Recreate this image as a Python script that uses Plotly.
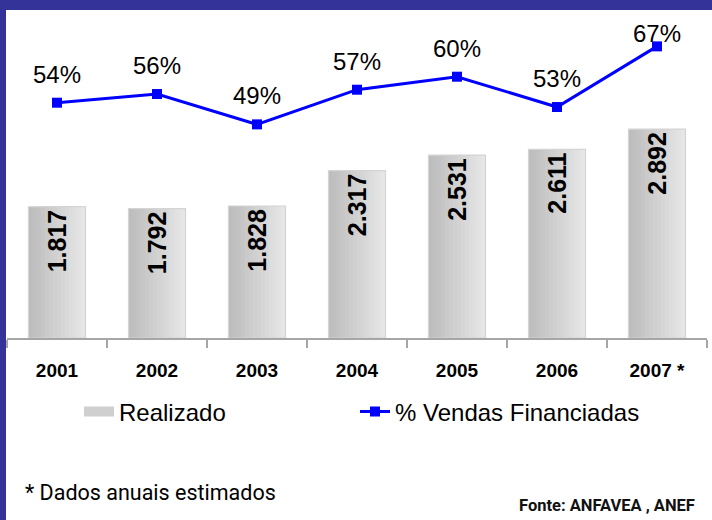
import plotly.graph_objects as go

# ---- data ----
years = ["2001", "2002", "2003", "2004", "2005", "2006", "2007 *"]
realizado = [1.817, 1.792, 1.828, 2.317, 2.531, 2.611, 2.892]
pct_financiadas = [54, 56, 49, 57, 60, 53, 67]
bar_labels = ["1.817", "1.792", "1.828", "2.317", "2.531", "2.611", "2.892"]
pct_labels = ["54%", "56%", "49%", "57%", "60%", "53%", "67%"]

FONT = "Liberation Sans, Arial, sans-serif"
NARROW = "Roboto, Liberation Sans, sans-serif"

W, H = 712, 520
ML, MR, MT, MB = 7, 5, 13, 182
PW, PH = W - ML - MR, H - MT - MB


def px_x(p):
    return (p - ML) / PW


def px_y(p):
    return (H - MB - p) / PH


fig = go.Figure()

# gradient bars: stacked overlay slices, dark on the left to light on the right
bw = 0.57
N = 14
c0 = (189, 189, 189)
c1 = (230, 230, 230)
for i in range(N):
    t = i / (N - 1)
    col = "rgb(%d,%d,%d)" % tuple(round(a + (b - a) * t) for a, b in zip(c0, c1))
    fig.add_trace(go.Bar(
        x=years, y=realizado, width=bw - i * bw / N, offset=-bw / 2 + i * bw / N,
        marker=dict(color=col, line=dict(width=0)),
        showlegend=False, hoverinfo="skip",
    ))

# outline + labels
fig.add_trace(go.Bar(
    x=years, y=realizado, width=bw, offset=-bw / 2, name="Realizado",
    marker=dict(color="rgba(0,0,0,0)", line=dict(color="#d4d4d4", width=1.2)),
    text=bar_labels, textposition="inside", insidetextanchor="end", textangle=-90,
    textfont=dict(family=FONT, size=25, color="black", weight="bold"),
    constraintext="none", showlegend=False,
))
# legend entry for the bars (wide grey swatch)
fig.add_trace(go.Scatter(
    x=[None], y=[None], name="Realizado", mode="lines",
    line=dict(color="#cfcfcf", width=13), legend="legend",
))

fig.add_trace(go.Scatter(
    x=years, y=pct_financiadas, yaxis="y2", name="% Vendas Financiadas",
    mode="lines+markers",
    line=dict(color="#0000FF", width=3),
    marker=dict(symbol="square", size=10, color="#0000FF"),
    legend="legend2",
))

label_yshift = {"2007 *": -3}
for i, (yr, v, lab) in enumerate(zip(years, pct_financiadas, pct_labels)):
    fig.add_annotation(
        x=i, y=v, xref="x", yref="y2", text=lab, showarrow=False,
        yanchor="bottom", yshift=label_yshift.get(yr, 13),
        font=dict(family=FONT, size=24, color="black"),
    )

fig.add_annotation(
    x=px_x(23), y=px_y(492), xref="paper", yref="paper", xanchor="left", yanchor="middle",
    text="* Dados anuais estimados", showarrow=False,
    font=dict(family=NARROW, size=21.5, color="black"),
)
fig.add_annotation(
    x=px_x(697), y=px_y(505), xref="paper", yref="paper", xanchor="right", yanchor="middle",
    text="<b>Fonte: ANFAVEA , ANEF</b>", showarrow=False,
    font=dict(family=NARROW, size=16.5, color="#111111"),
)

# dark blue frame (top and left)
BLUE = "#333399"
fig.add_shape(type="rect", xref="paper", yref="paper", layer="above",
              x0=px_x(-5), x1=px_x(W + 5), y0=px_y(10), y1=px_y(-5),
              fillcolor=BLUE, line=dict(width=0))
fig.add_shape(type="rect", xref="paper", yref="paper", layer="above",
              x0=px_x(-5), x1=px_x(6), y0=px_y(H + 5), y1=px_y(-5),
              fillcolor=BLUE, line=dict(width=0))

legend_common = dict(
    orientation="h", yanchor="middle", xanchor="left",
    font=dict(family=FONT, size=24, color="black"),
    bgcolor="rgba(0,0,0,0)", borderwidth=0,
)

fig.update_layout(
    width=W, height=H,
    margin=dict(l=ML, r=MR, t=MT, b=MB, pad=0, autoexpand=False),
    paper_bgcolor="white", plot_bgcolor="white",
    barmode="overlay",
    font=dict(family=FONT, color="black"),
    xaxis=dict(
        type="category", range=[-0.5, 6.5], tickson="boundaries",
        ticks="outside", ticklen=8, tickwidth=2, tickcolor="#a6a6a6",
        showline=True, linecolor="#a6a6a6", linewidth=2,
        showgrid=False, zeroline=False, ticklabelstandoff=14,
        tickfont=dict(family=FONT, size=19, color="black", weight="bold"),
    ),
    yaxis=dict(range=[0, 4.5], visible=False, showgrid=False, fixedrange=True),
    yaxis2=dict(range=[-0.3, 74.7], overlaying="y", visible=False, showgrid=False),
    legend=dict(x=px_x(79), y=px_y(412), **legend_common),
    legend2=dict(x=px_x(355), y=px_y(412), **legend_common),
    showlegend=True,
)

fig.write_html("out.html", config={"displayModeBar": False},
               post_script="document.body.style.margin='0';")
